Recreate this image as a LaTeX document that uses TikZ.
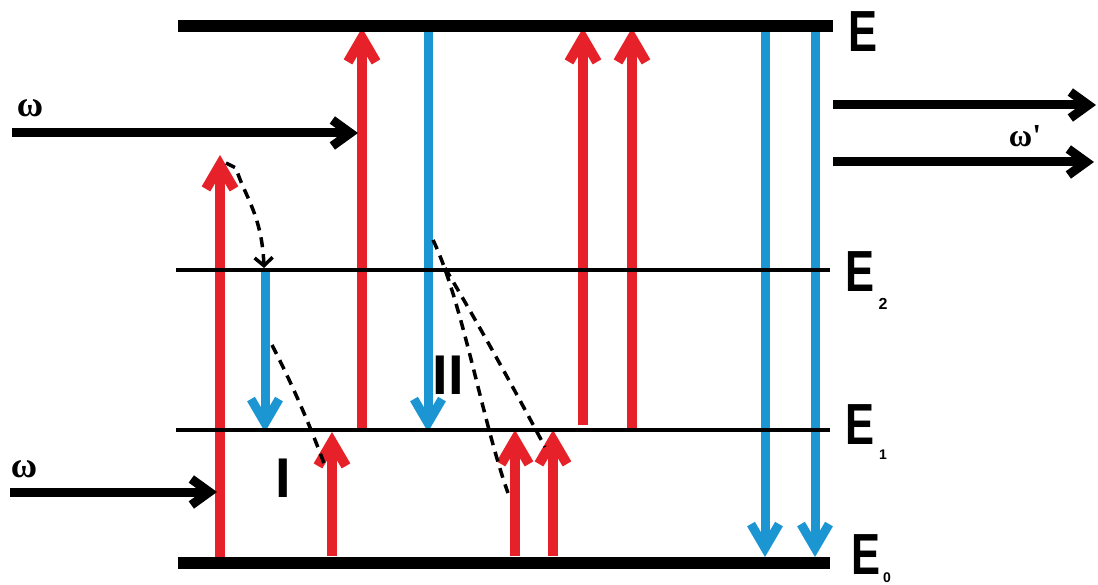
\documentclass[tikz,border=0pt]{standalone}
\usepackage{fontspec}
\setmainfont{Liberation Sans}
\newfontfamily\omegafont{Liberation Serif}
\usetikzlibrary{arrows.meta}
\definecolor{myred}{RGB}{230,33,41}
\definecolor{myblue}{RGB}{27,150,210}
\begin{document}
\begin{tikzpicture}[x=1pt,y=-1pt,
  thinlevel/.style={black,line width=4pt},
  thicklevel/.style={black,line width=12pt},
  uparrow/.style={myred,line width=10pt,-{Straight Barb[length=24pt,width=28pt]}},
  downarrow/.style={myblue,line width=9pt,-{Straight Barb[length=24pt,width=28pt]}},
  beam/.style={black,line width=9pt,-{Straight Barb[length=18pt,width=26pt]}},
  relax/.style={black,line width=3.5pt,dash pattern=on 10pt off 7pt},
  elab/.style={inner sep=0pt,font=\bfseries\fontsize{58}{58}\selectfont},
  sublab/.style={inner sep=0pt,font=\fontsize{16}{16}\selectfont\bfseries},
  wlab/.style={inner sep=0pt,font=\omegafont\bfseries\fontsize{36}{36}\selectfont},
  romlab/.style={inner sep=0pt,font=\bfseries\fontsize{56}{56}\selectfont}]
\useasboundingbox (0,0) rectangle (1098,585);
% red up arrows
\draw[uparrow] (220,560) -- (220,155);
\draw[uparrow] (362,428) -- (362,28);
\draw[uparrow] (583,425) -- (583,28);
\draw[uparrow] (632,428) -- (632,28);
\draw[uparrow] (332,556) -- (332,432);
\draw[uparrow] (515,556) -- (515,430);
\draw[uparrow] (553,556) -- (553,430);
% blue down arrows
\draw[downarrow] (265,272) -- (265,432);
\draw[downarrow] (428,30) -- (428,432);
\draw[downarrow] (765,30) -- (765,557);
\draw[downarrow] (815,30) -- (815,557);
% thick levels
\draw[thicklevel] (178,26) -- (833,26);
\draw[thicklevel] (178,563) -- (830,563);
% thin levels
\draw[thinlevel] (176,270) -- (830,270);
\draw[thinlevel] (176,430) -- (830,430);
% incoming / outgoing beams
\draw[beam] (12,133) -- (358,133);
\draw[beam] (10,492) -- (217,492);
\draw[beam] (833,105) -- (1096,105);
\draw[beam] (833,162) -- (1094,162);
% dashed relaxation curves
\draw[relax,-{Straight Barb[length=8pt,width=18pt]}] (226,163) -- (236,168) .. controls (244,195) and (262,215) .. (264,268);
\draw[relax] (272,345) .. controls (290,380) and (308,420) .. (325,466);
\draw[relax] (433,240) .. controls (462,300) and (482,420) .. (508,493);
\draw[relax] (445,268) .. controls (482,330) and (520,400) .. (545,447);
% labels
\node[elab] (lE) at (863,32) {\scalebox{0.75}[1]{E}};
\node[elab] (lE2) at (860,272) {\scalebox{0.75}[1]{E}};
\node[sublab] (s2) at (883,304) {2};
\node[elab] (lE1) at (860,425) {\scalebox{0.75}[1]{E}};
\node[sublab,font=\bfseries\fontsize{14}{14}\selectfont] (s1) at (883,455) {1};
\node[elab] (lE0) at (866,555) {\scalebox{0.75}[1]{E}};
\node[sublab,font=\bfseries\fontsize{14}{14}\selectfont] (s0) at (887,578) {0};
\node[wlab] (w1) at (30,108) {ω};
\node[wlab] (w2) at (24,469) {ω};
\node[wlab,font=\omegafont\bfseries\fontsize{32}{32}\selectfont] (w3) at (1025,136) {ω'};
\node[romlab] (r1) at (283,478) {I};
\node[romlab] (r2) at (448,375) {II};
\end{tikzpicture}
\end{document}
